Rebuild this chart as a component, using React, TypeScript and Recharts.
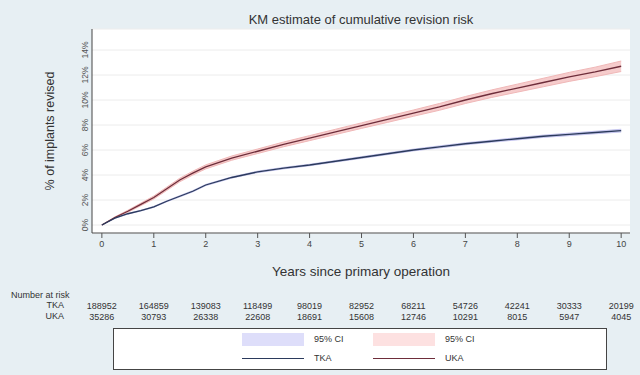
import React from 'react';
import {
  ComposedChart,
  Area,
  Line,
  XAxis,
  YAxis,
  CartesianGrid,
} from 'recharts';

// years since primary operation
const years = [0, 0.25, 0.5, 0.75, 1, 1.25, 1.5, 1.75, 2, 2.5, 3, 3.5, 4, 4.5, 5, 5.5, 6, 6.5, 7, 7.5, 8, 8.5, 9, 9.5, 10];

// cumulative revision risk (%)
const tkaRisk = [0, 0.55, 0.9, 1.15, 1.45, 1.9, 2.3, 2.7, 3.2, 3.8, 4.25, 4.55, 4.8, 5.1, 5.4, 5.7, 6.0, 6.25, 6.5, 6.7, 6.9, 7.1, 7.25, 7.4, 7.55];
const ukaRisk = [0, 0.6, 1.1, 1.65, 2.2, 2.9, 3.6, 4.15, 4.65, 5.35, 5.9, 6.45, 6.95, 7.45, 7.95, 8.45, 8.95, 9.45, 10.0, 10.5, 10.95, 11.4, 11.85, 12.25, 12.7];

// half width of the 95% CI (%)
const tkaCiHalf = [0, 0.02, 0.03, 0.03, 0.04, 0.04, 0.05, 0.05, 0.05, 0.05, 0.06, 0.06, 0.06, 0.06, 0.07, 0.07, 0.07, 0.08, 0.08, 0.08, 0.09, 0.09, 0.1, 0.1, 0.11];
const ukaCiHalf = [0, 0.05, 0.08, 0.1, 0.12, 0.13, 0.14, 0.15, 0.16, 0.17, 0.18, 0.19, 0.2, 0.21, 0.22, 0.24, 0.25, 0.27, 0.28, 0.3, 0.32, 0.34, 0.36, 0.38, 0.42];

const xTicks = [0, 1, 2, 3, 4, 5, 6, 7, 8, 9, 10];
const yTicks = [0, 2, 4, 6, 8, 10, 12, 14];

const atRiskTka = [188952, 164859, 139083, 118499, 98019, 82952, 68211, 54726, 42241, 30333, 20199];
const atRiskUka = [35286, 30793, 26338, 22608, 18691, 15608, 12746, 10291, 8015, 5947, 4045];

const data = years.map((t, i) => ({
  t,
  tka: tkaRisk[i],
  uka: ukaRisk[i],
  tkaCi: [tkaRisk[i] - tkaCiHalf[i], tkaRisk[i] + tkaCiHalf[i]],
  ukaCi: [ukaRisk[i] - ukaCiHalf[i], ukaRisk[i] + ukaCiHalf[i]],
}));

const FONT = '"Liberation Sans", Arial, Helvetica, sans-serif';
const TKA_COLOR = '#2b3a5c';
const UKA_COLOR = '#6e2d3a';

const YTick = ({ x, y, payload }: any) => (
  <text
    x={x}
    y={y}
    transform={`rotate(-90 ${x} ${y})`}
    textAnchor="middle"
    fontSize={8.5}
    fill="#555"
    fontFamily={FONT}
  >
    {payload.value}%
  </text>
);

const RiskTick = ({ x, y, payload }: any) => {
  const i = xTicks.indexOf(payload.value);
  return (
    <g fontFamily={FONT} fontSize={9} fill="#333" textAnchor="middle">
      <text x={x} y={y + 24}>{atRiskTka[i]}</text>
      <text x={x} y={y + 35}>{atRiskUka[i]}</text>
    </g>
  );
};

const App: React.FC = () => {
  return (
    <div
      style={{
        position: 'absolute',
        top: 0,
        left: 0,
        width: 640,
        height: 375,
        background: '#e7eff3',
        fontFamily: FONT,
        overflow: 'hidden',
      }}
    >
      <div
        style={{
          position: 'absolute',
          top: 12,
          left: 92,
          width: 538,
          textAlign: 'center',
          fontSize: 13,
          lineHeight: '16px',
          color: '#333',
        }}
      >
        KM estimate of cumulative revision risk
      </div>

      <div style={{ position: 'absolute', top: 0, left: 0 }}>
        <ComposedChart
          width={640}
          height={330}
          data={data}
          margin={{ top: 29, right: 10, left: 0, bottom: 0 }}
        >
          <CartesianGrid horizontal vertical={false} stroke="#ececec" fill="#fff" />
          <XAxis
            dataKey="t"
            type="number"
            domain={[-0.19, 10.17]}
            allowDataOverflow
            ticks={xTicks}
            interval={0}
            height={52}
            tickSize={5}
            tickMargin={3}
            stroke="#555"
            tick={{ fontSize: 9, fill: '#444', fontFamily: FONT }}
            label={{
              value: 'Years since primary operation',
              position: 'insideBottom',
              offset: 9,
              style: { fontSize: 13.5, fill: '#333', fontFamily: FONT },
            }}
          />
          <XAxis
            xAxisId="risk"
            dataKey="t"
            type="number"
            domain={[-0.19, 10.17]}
            allowDataOverflow
            ticks={xTicks}
            interval={0}
            height={45}
            axisLine={false}
            tickLine={false}
            tickSize={0}
            tickMargin={0}
            tick={<RiskTick />}
          />
          <YAxis
            type="number"
            domain={[-0.64, 15.68]}
            allowDataOverflow
            ticks={yTicks}
            interval={0}
            width={92}
            tickLine={false}
            tickSize={0}
            tickMargin={4}
            stroke="#444"
            tick={<YTick />}
            label={{
              value: '% of implants revised',
              angle: -90,
              position: 'insideLeft',
              offset: 50,
              style: { fontSize: 12.5, fill: '#333', fontFamily: FONT, textAnchor: 'middle' },
            }}
          />
          <Area
            dataKey="ukaCi"
            type="linear"
            stroke="#f0b8b8"
            strokeWidth={1}
            fill="#f6cccc"
            fillOpacity={1}
            isAnimationActive={false}
          />
          <Area
            dataKey="tkaCi"
            type="linear"
            stroke="#c6c6ee"
            strokeWidth={1}
            fill="#d2d2f4"
            fillOpacity={1}
            isAnimationActive={false}
          />
          <Line
            dataKey="uka"
            type="linear"
            stroke={UKA_COLOR}
            strokeWidth={1.3}
            dot={false}
            isAnimationActive={false}
          />
          <Line
            dataKey="tka"
            type="linear"
            stroke={TKA_COLOR}
            strokeWidth={1.3}
            dot={false}
            isAnimationActive={false}
          />
        </ComposedChart>
      </div>

      {/* number at risk row labels */}
      <div style={{ position: 'absolute', top: 290, left: 11, fontSize: 9, color: '#333' }}>
        Number at risk
      </div>
      <div
        style={{
          position: 'absolute',
          top: 300,
          left: 20,
          width: 44,
          textAlign: 'right',
          fontSize: 9,
          lineHeight: '11px',
          color: '#333',
        }}
      >
        <div>TKA</div>
        <div>UKA</div>
      </div>

      {/* legend */}
      <div
        style={{
          position: 'absolute',
          top: 328,
          left: 113,
          width: 494,
          height: 42,
          boxSizing: 'border-box',
          border: '1px solid #444',
          background: '#fff',
          fontSize: 9,
          color: '#333',
        }}
      >
        <div style={{ position: 'absolute', left: 128, top: 4, width: 62, height: 13, background: '#dedefa' }} />
        <div style={{ position: 'absolute', left: 200, top: 5 }}>95% CI</div>
        <div style={{ position: 'absolute', left: 259, top: 4, width: 62, height: 13, background: '#fde1e1' }} />
        <div style={{ position: 'absolute', left: 331, top: 5 }}>95% CI</div>
        <div style={{ position: 'absolute', left: 128, top: 29, width: 62, height: 1.3, background: TKA_COLOR }} />
        <div style={{ position: 'absolute', left: 200, top: 24 }}>TKA</div>
        <div style={{ position: 'absolute', left: 259, top: 29, width: 62, height: 1.3, background: UKA_COLOR }} />
        <div style={{ position: 'absolute', left: 331, top: 24 }}>UKA</div>
      </div>
    </div>
  );
};

export default App;
